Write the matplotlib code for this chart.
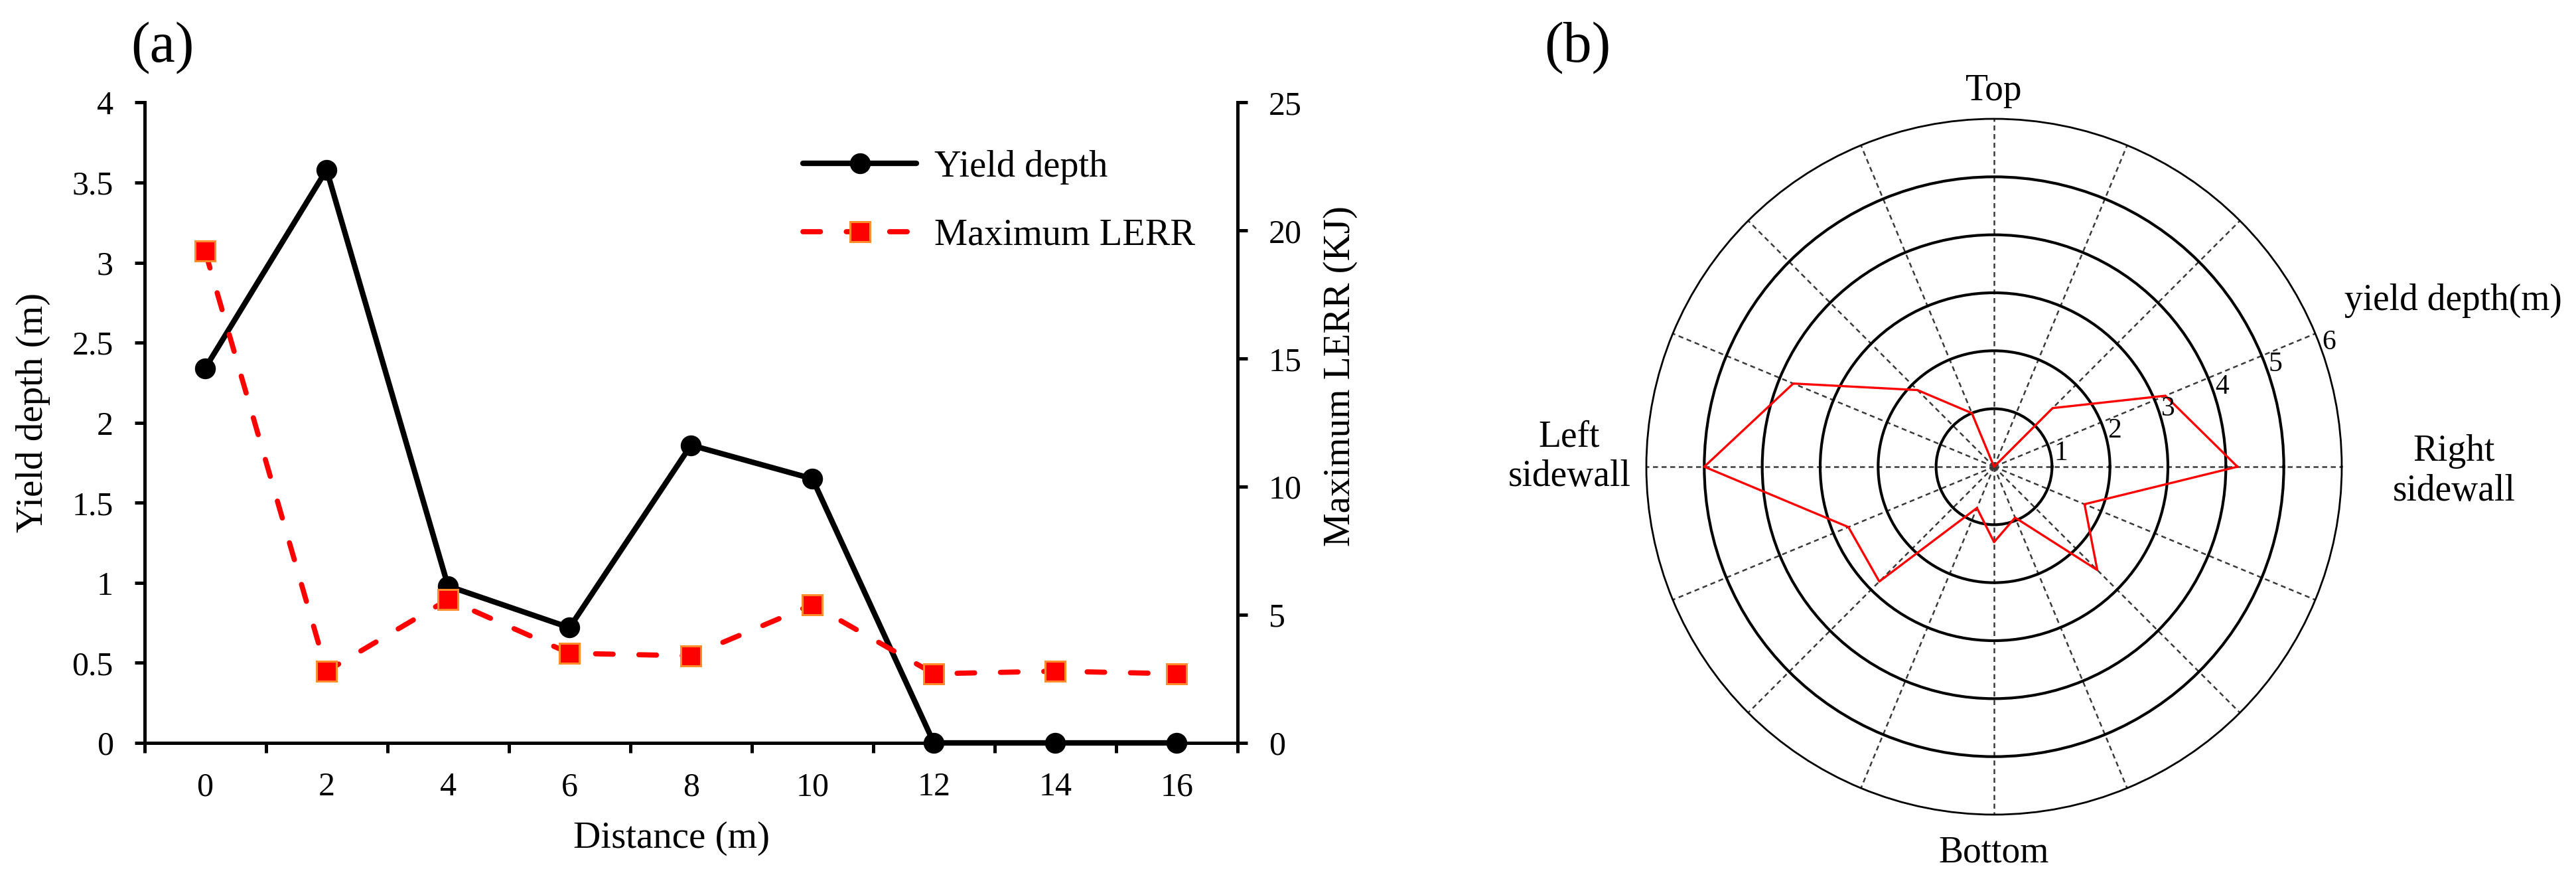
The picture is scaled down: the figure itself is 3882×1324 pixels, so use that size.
import numpy as np
import matplotlib
matplotlib.use('Agg')
import matplotlib.pyplot as plt

plt.rcParams['font.family'] = ['Liberation Serif', 'DejaVu Serif']

# ---------------- data ----------------
distance = [0, 2, 4, 6, 8, 10, 12, 14, 16]
yield_depth = [2.34, 3.58, 0.98, 0.72, 1.86, 1.65, 0.0, 0.0, 0.0]
max_lerr = [19.2, 2.8, 5.6, 3.5, 3.4, 5.4, 2.7, 2.8, 2.7]
left_yticks = [0, 0.5, 1, 1.5, 2, 2.5, 3, 3.5, 4]
right_yticks = [0, 5, 10, 15, 20, 25]

radar_angles_deg = [0, 22.5, 45, 67.5, 90, 112.5, 135, 157.5,
                    180, 202.5, 225, 247.5, 270, 292.5, 315, 337.5]
radar_yield = [4.2, 3.2, 1.43, 0.0, 0.0, 1.0, 1.87, 3.75,
               5.0, 2.72, 2.8, 0.77, 1.3, 0.95, 2.52, 1.69]
radar_rticks = [1, 2, 3, 4, 5, 6]

# ---------------- figure ----------------
fig = plt.figure(figsize=(19.41, 6.62), dpi=200)

# ---- panel (a) ----
ax = fig.add_axes([0.05605, 0.15483, 0.42437, 0.72848])
idx = np.arange(len(distance))
l1, = ax.plot(idx, yield_depth, color='black', lw=3.0, marker='o', ms=10.3,
              solid_capstyle='round', solid_joinstyle='round',
              label='Yield depth', clip_on=False, zorder=3)
ax.set_xlim(-0.5, len(distance) - 0.5)
ax.set_ylim(0, 4)
ax.set_xticks(idx)
ax.set_xticklabels([str(d) for d in distance])
ax.set_xticks(np.arange(-0.5, len(distance), 1.0), minor=True)
ax.tick_params(axis='x', which='major', length=0, pad=15.8, labelsize=18)
ax.tick_params(axis='x', which='minor', length=5.4, width=1.8, direction='out')
ax.set_yticks(left_yticks)
ax.set_yticklabels(['%g' % v for v in left_yticks])
ax.tick_params(axis='y', length=5.4, width=1.8, pad=11.5, labelsize=18, direction='out')
for s in ['top', 'right']:
    ax.spines[s].set_visible(False)
for s in ['left', 'bottom']:
    ax.spines[s].set_linewidth(1.8)

ax2 = ax.twinx()
l2, = ax2.plot(idx, max_lerr, color='red', lw=2.8, ls=(0, (3.4, 5.0)),
               dash_capstyle='round', marker='s', ms=10.8, mfc='red',
               mec='#FF8C2A', mew=1.1, label='Maximum LERR', zorder=3)
ax2.set_ylim(0, 25)
ax2.set_yticks(right_yticks)
ax2.set_yticklabels([str(v) for v in right_yticks])
ax2.tick_params(axis='y', length=5.4, width=1.8, pad=11.5, labelsize=18, direction='out')
for s in ['top', 'left', 'bottom']:
    ax2.spines[s].set_visible(False)
ax2.spines['right'].set_linewidth(1.8)

ax.set_xlabel('Distance (m)', fontsize=20.5)
ax.xaxis.set_label_coords(0.482, -0.149)
ax.xaxis.label.set_va('center')
ax.set_ylabel('Yield depth (m)', fontsize=20.5)
ax.yaxis.set_label_coords(-0.1017, 0.516)
ax.yaxis.label.set_va('center')
ax2.set_ylabel('Maximum LERR (KJ)', fontsize=20.5)
ax2.yaxis.set_label_coords(1.0941, 0.5733)
ax2.yaxis.label.set_va('center')

ax2.legend([l1, l2], [l1.get_label(), l2.get_label()], loc='upper left',
           bbox_to_anchor=(0.6024, 0.926), frameon=False, fontsize=20.3,
           handlelength=3.04, handletextpad=0.47, labelspacing=0.9,
           borderpad=0, borderaxespad=0)

fig.text(0.0631, 0.9456, '(a)', fontsize=31, ha='center', va='center')

# ---- panel (b) radar ----
axr = fig.add_axes([0.63910, 0.07326, 0.26997, 0.79154], projection='polar')
theta = np.deg2rad(radar_angles_deg)
theta_c = np.append(theta, theta[0])
r_c = np.append(radar_yield, radar_yield[0])
axr.plot(theta_c, r_c, color='red', lw=1.2, zorder=3)
axr.set_ylim(0, radar_rticks[-1])
axr.set_yticks(radar_rticks[:-1])
axr.set_yticklabels([])
axr.yaxis.grid(True, color='black', lw=1.5, ls='-')
axr.set_xticks(theta)
axr.set_xticklabels([])
axr.xaxis.grid(True, color='#3a3a3a', lw=0.9, ls=(0, (3, 2.2)))
axr.tick_params(axis='both', length=0)
axr.spines['polar'].set_linewidth(1.0)

for r in radar_rticks:
    axr.annotate(str(r), xy=(np.deg2rad(22.5), r), xytext=(7.4, -4.7),
                 textcoords='offset points', ha='center', va='center',
                 fontsize=15, annotation_clip=False)

axr.text(0.5, 1.040, 'Top', transform=axr.transAxes, ha='center', va='center', fontsize=20)
axr.text(0.5, -0.0553, 'Bottom', transform=axr.transAxes, ha='center', va='center', fontsize=20)
axr.text(-0.1107, 0.5143, 'Left\nsidewall', transform=axr.transAxes, ha='center',
         va='center', multialignment='center', fontsize=20)
axr.text(1.1613, 0.4933, 'Right\nsidewall', transform=axr.transAxes, ha='center',
         va='center', multialignment='center', fontsize=20)
axr.text(1.0038, 0.7385, 'yield depth(m)', transform=axr.transAxes, ha='left',
         va='center', fontsize=20)

fig.text(0.6123, 0.9456, '(b)', fontsize=31, ha='center', va='center')

fig.savefig('out.png', dpi=200)
